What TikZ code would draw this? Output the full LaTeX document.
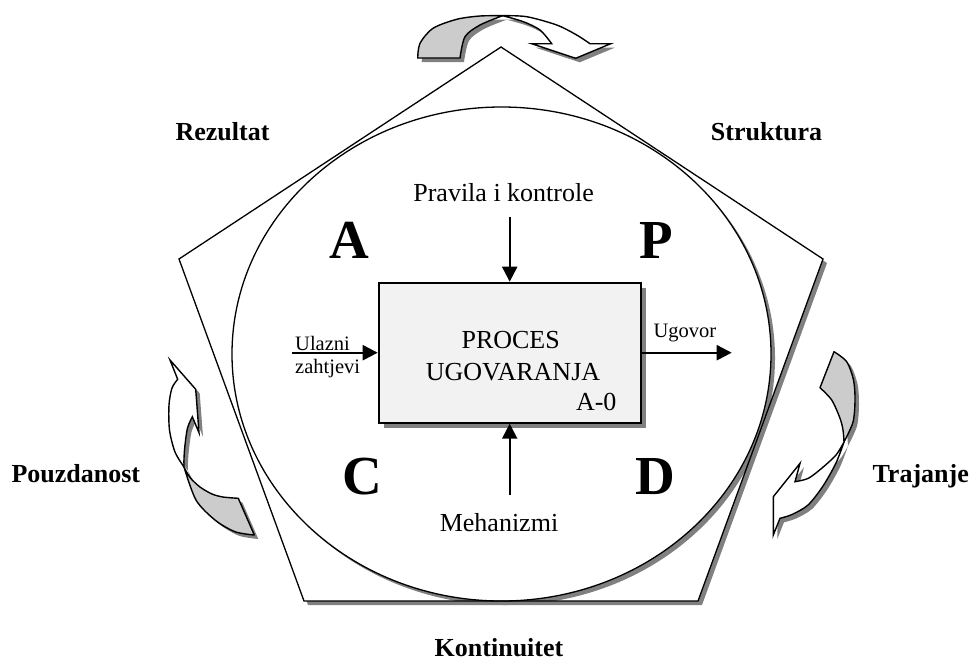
\documentclass[tikz,border=0pt]{standalone}
\usepackage{fontspec}
\setmainfont{Liberation Serif}
\usetikzlibrary{arrows.meta}

\begin{document}
\begin{tikzpicture}[x=1pt,y=-1pt,>={Triangle[length=15pt,width=15pt]},
  shadowfill/.style={fill=black!50},
  rim/.style={line width=1.3pt,line join=miter},
  flap/.style={fill=black!20,draw,line width=1.4pt,line join=round},
  band/.style={fill=white,draw,line width=1.4pt,line join=miter},
  procbox/.style={draw,line width=2pt,fill=black!5,minimum width=262pt,
                  minimum height=140pt,inner sep=0pt},
  conn/.style={->,line width=2.2pt},
  lbl/.style={font=\fontsize{26}{30}\selectfont\bfseries,anchor=base},
  letter/.style={font=\fontsize{55}{60}\selectfont\bfseries,anchor=base},
  txt/.style={font=\fontsize{26}{30}\selectfont,anchor=base},
  side/.style={font=\fontsize{20.5}{24}\selectfont,anchor=base west}]
 \def\pentpath{(501,47)--(823,259)--(698,601)--(304,601)--(179,259)--cycle}
 \def\ovalpath{(501.5,354) ellipse[x radius=269.5,y radius=247]}
 \def\topflap{(417.7,58) -- plot[smooth] coordinates{(417.7,58) (420,43.3)
   (433,28.3) (456.7,19.3) (480,16) (502.7,15.7)} -- plot[smooth]
   coordinates{(502.7,15.7) (480,25) (465,36.7) (460,58)} -- cycle}
 \def\topband{(502.7,15.7) -- plot[smooth] coordinates{(502.7,15.7)
   (526.7,16.7) (556.7,25) (576.7,35) (590,43.7)} -- (610.7,43.7)
   -- (575.7,58.3) -- (531.7,43.7) -- (551.7,43.7) -- plot[smooth]
   coordinates{(551.7,43.7) (540,30) (523.3,21.7) (502.7,15.7)} -- cycle}
 \def\leftflap{(184,467) -- plot[smooth] coordinates{(184,467) (196,500)
   (215,520) (235,531.7) (254.3,535)} -- (238.3,498.3) -- plot[smooth]
   coordinates{(238.3,498.3) (223,497) (212,494) (200,487) (190,477.5)
   (184,467)} -- cycle}
 \def\leftband{(184,467) -- plot[smooth] coordinates{(184,467) (175,452)
   (169.5,430) (169,405) (172,388) (177.7,379.3)} -- (170,360)
   -- (195.7,389.3) -- (199,432.7) -- (192.3,416.7) -- plot[smooth]
   coordinates{(192.3,416.7) (187.5,428) (185,445) (184,458) (184,467)}
   -- cycle}
 \def\rightflap{(834,351.7) -- plot[smooth] coordinates{(834,351.7)
   (846.7,361.7) (853.5,380) (855,400) (853,422) (844,442)} -- plot[smooth]
   coordinates{(844,442) (843,430) (840,418.3) (831.7,400) (820,387.7)}
   -- cycle}
 \def\rightband{(844,442) -- plot[smooth] coordinates{(844,442) (836,463)
   (823,486) (808,505) (792,514.5) (780,518.3)} -- (773.3,535)
   -- (773.3,496.7) -- (800,463.3) -- (795,481.7) -- plot[smooth]
   coordinates{(795,481.7) (808.3,478.3) (822,468) (836,455) (844,442)}
   -- cycle}
 \useasboundingbox (0,0) rectangle (973,662);

 \fill[shadowfill,shift={(4,4)}] \pentpath;
 \fill[white] \pentpath;
 \fill[shadowfill,shift={(4,4)}] \ovalpath;
 \fill[white] \ovalpath;
 \draw[rim] \pentpath;
 \draw[rim] \ovalpath;

 \fill[shadowfill,shift={(4,4)}] \topflap \topband;
 \path[flap] \topflap;
 \path[band] \topband;
 \fill[shadowfill,shift={(4,4)}] \leftflap \leftband;
 \path[flap] \leftflap;
 \path[band] \leftband;
 \fill[shadowfill,shift={(4,4)}] \rightflap \rightband;
 \path[flap] \rightflap;
 \path[band] \rightband;

 \fill[shadowfill] (383.6,287.7) rectangle (645.7,427.7);
 \node[procbox] (box) at (509.7,352.7) {};
 \node[txt] (proc) at (510.7,348.3) {PROCES};
 \node[txt] (ugov) at (513,380.5) {UGOVARANJA};
 \node[txt,anchor=base east] (code) at (620,410) {A-0};

 \node[txt] (ctrl) at (503.6,201.7) {Pravila i kontrole};
 \node[txt] (mech) at (499,531.5) {Mehanizmi};
 \node[side] (in1) at (291.7,350) {Ulazni};
 \node[side] (in2) at (291.7,373.3) {zahtjevi};
 \node[side] (out) at (650,337.7) {Ugovor};
 \coordinate (ctrltail) at (509.7,216.7);
 \coordinate (mechtail) at (509.7,495);
 \coordinate (intail) at (291.7,352.7);
 \coordinate (outhead) at (731.7,352.7);
 \draw[conn] (ctrltail) -- (box.north);
 \draw[conn] (mechtail) -- (box.south);
 \draw[conn] (intail) -- (box.west);
 \draw[conn] (box.east) -- (outhead);

 \node[letter] (la) at (349,258.3) {A};
 \node[letter] (lp) at (655.9,258.3) {P};
 \node[letter] (lc) at (362,494) {C};
 \node[letter] (ld) at (655,494) {D};

 \node[lbl] (rez) at (222.5,140) {Rezultat};
 \node[lbl] (str) at (766.5,140) {Struktura};
 \node[lbl,anchor=base west] (pou) at (8,482) {Pouzdanost};
 \node[lbl,anchor=base west] (tra) at (869,482) {Trajanje};
 \node[lbl] (kon) at (499,656) {Kontinuitet};
\end{tikzpicture}
\end{document}
